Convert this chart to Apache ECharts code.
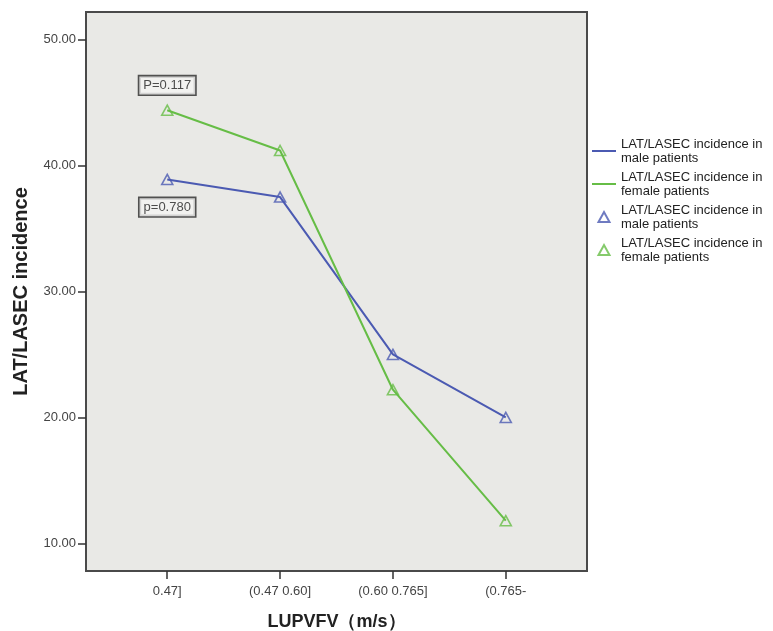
<!DOCTYPE html>
<html>
<head>
<meta charset="utf-8">
<title>LAT/LASEC incidence</title>
<script src="https://cdn.jsdelivr.net/npm/echarts@6/dist/echarts.min.js"></script>
<style>
  html, body { margin: 0; padding: 0; background: #fff; }
  #chart { width: 773px; height: 631px; }
</style>
</head>
<body>
<div id="chart"></div>
<script>
  // values
  const categories = ['0.47]', '(0.47 0.60]', '(0.60 0.765]', '(0.765-']
  const maleValues = [38.9, 37.5, 25.0, 20.0]
  const femaleValues = [44.4, 41.2, 22.2, 11.8]
  const yTicks = [10, 20, 30, 40, 50]
  const xTicks = [0, 1, 2, 3]
  const pFemale = 'P=0.117'
  const pMale = 'p=0.780'
  const maleName = 'LAT/LASEC incidence in\nmale patients'
  const femaleName = 'LAT/LASEC incidence in\nfemale patients'

  const blue = '#4b5ab2'
  const green = '#66bd46'
  const font = '"Liberation Sans", Arial, sans-serif'
  // legend icons; the extra moveTo points keep the triangle from stretching
  const lineIcon = 'path://M0,0 L24,0 L24,2 L0,2 Z'
  const triIcon = 'path://M0,0 M24,10 M6.5,10 L12,0 L17.5,10 Z'

  function linePoints(values) {
    return values.map((v, i) => [i, v])
  }

  // first point carries the boxed p-value
  function markerPoints(values, text, pos, dist) {
    return values.map((v, i) => {
      if (i !== 0) return [i, v]
      return {
        value: [i, v],
        label: {
          show: true,
          formatter: text,
          position: pos,
          distance: dist,
          color: '#222',
          fontFamily: font,
          fontSize: 13,
          lineHeight: 14,
          backgroundColor: '#f4f4f2',
          borderColor: '#2a2a2a',
          borderWidth: 1.6,
          padding: [2, 4, 2, 4]
        }
      }
    })
  }

  const chart = echarts.init(document.getElementById('chart'), null, { renderer: 'canvas' })

  const option = {
    backgroundColor: '#fff',
    animation: false,
    textStyle: { fontFamily: font },
    grid: {
      left: 86, right: 186, top: 12, bottom: 60,
      outerBoundsMode: 'none',
      containLabel: false,
      show: true,
      backgroundColor: '#e9e9e6',
      borderColor: '#4a4a4a',
      borderWidth: 2
    },
    legend: {
      orient: 'vertical',
      left: 586,
      top: 132,
      itemWidth: 24,
      itemHeight: 10,
      itemGap: 5,
      textStyle: { color: '#222', fontSize: 13, lineHeight: 14, fontFamily: font },
      formatter: name => name.trim(),
      data: [
        { name: maleName, icon: lineIcon },
        { name: femaleName, icon: lineIcon },
        { name: maleName + ' ', icon: triIcon },
        { name: femaleName + ' ', icon: triIcon }
      ]
    },
    xAxis: {
      type: 'value',
      min: -0.72,
      max: 3.72,
      name: 'LUPVFV（m/s）',
      nameLocation: 'middle',
      nameGap: 42,
      nameTextStyle: { fontSize: 18, fontWeight: 'bold', color: '#222', fontFamily: font },
      splitLine: { show: false },
      axisLine: { show: false, onZero: false },
      axisTick: {
        show: true, length: 8, customValues: xTicks,
        lineStyle: { color: '#333', width: 1.5 }
      },
      axisLabel: {
        customValues: xTicks,
        margin: 14,
        color: '#444',
        fontSize: 13,
        formatter: v => categories[v]
      }
    },
    yAxis: {
      type: 'value',
      min: 7.8,
      max: 52.2,
      name: 'LAT/LASEC incidence',
      nameLocation: 'middle',
      nameGap: 55,
      nameTextStyle: { fontSize: 20, fontWeight: 'bold', color: '#222', fontFamily: font },
      splitLine: { show: false },
      axisLine: { show: false, onZero: false },
      axisTick: {
        show: true, length: 8, customValues: yTicks,
        lineStyle: { color: '#333', width: 1.5 }
      },
      axisLabel: {
        customValues: yTicks,
        margin: 10,
        color: '#444',
        fontSize: 13,
        formatter: v => v.toFixed(2)
      }
    },
    series: [
      {
        name: maleName,
        type: 'line',
        symbol: 'none',
        data: linePoints(maleValues),
        lineStyle: { color: blue, width: 2 },
        itemStyle: { color: blue },
        z: 2
      },
      {
        name: femaleName,
        type: 'line',
        symbol: 'none',
        data: linePoints(femaleValues),
        lineStyle: { color: green, width: 2 },
        itemStyle: { color: green },
        z: 2
      },
      {
        name: maleName + ' ',
        type: 'scatter',
        symbol: 'triangle',
        symbolSize: [11, 10],
        itemStyle: { color: 'rgba(0,0,0,0)', borderColor: blue, borderWidth: 1.6 },
        data: markerPoints(maleValues, pMale, 'bottom', 13),
        z: 3
      },
      {
        name: femaleName + ' ',
        type: 'scatter',
        symbol: 'triangle',
        symbolSize: [11, 10],
        itemStyle: { color: 'rgba(0,0,0,0)', borderColor: green, borderWidth: 1.6 },
        data: markerPoints(femaleValues, pFemale, 'top', 10),
        z: 3
      }
    ]
  }

  chart.setOption(option)
</script>
</body>
</html>
